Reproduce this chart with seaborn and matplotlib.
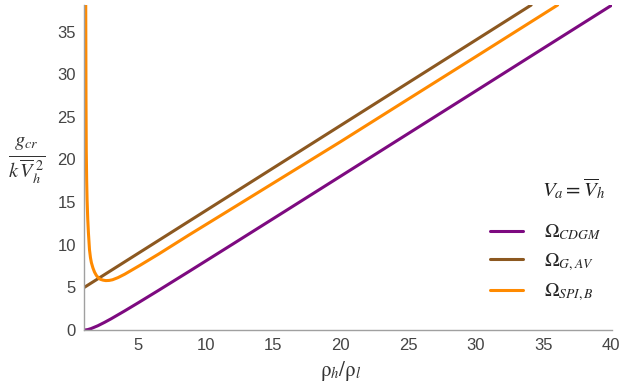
import numpy as np
import matplotlib
matplotlib.use("Agg")
import matplotlib.pyplot as plt
import seaborn as sns
import pandas as pd
from matplotlib.ticker import MultipleLocator

# values
x_cdgm = [1.0, 1.25, 1.5, 2.0, 2.5, 3.0, 4.0, 5.0, 6.5, 8.76, 12.0, 16.0, 20.0, 25.0, 30.0, 35.0, 40.0]
y_cdgm = [0.0, 0.05, 0.17, 0.5, 0.9, 1.33, 2.25, 3.2, 4.65, 6.87, 10.08, 14.06, 18.05, 23.04, 28.03, 33.03, 38.02]

x_gav = [1.0, 10.0, 20.0, 30.0, 34.1]
y_gav = [5.0, 14.0, 24.0, 34.0, 38.1]

x_spi = [1.11, 1.12, 1.13, 1.15, 1.18, 1.21, 1.26, 1.31, 1.39, 1.46, 1.53, 1.64, 1.76,
         1.9, 2.06, 2.2, 2.4, 2.6, 2.85, 3.1, 3.5, 4.0, 5.17, 6.5, 8.76, 12.0, 16.0,
         20.0, 25.0, 30.0, 36.06]
y_spi = [38.1, 33.0, 27.0, 21.0, 17.5, 15.3, 13.0, 11.4, 9.4, 8.5, 7.9, 7.3, 6.8,
         6.4, 6.1, 5.95, 5.85, 5.8, 5.82, 5.9, 6.15, 6.55, 7.63, 8.9, 11.15, 14.3, 18.2,
         22.1, 27.08, 32.05, 38.1]

names = [r"$\Omega_{CDGM}$", r"$\Omega_{G,AV}$", r"$\Omega_{SPI,B}$"]
colors = ["#7d0a80", "#8c5820", "#ff8a00"]

df = pd.concat([
    pd.DataFrame({"x": x_cdgm, "y": y_cdgm, "curve": names[0]}),
    pd.DataFrame({"x": x_gav, "y": y_gav, "curve": names[1]}),
    pd.DataFrame({"x": x_spi, "y": y_spi, "curve": names[2]}),
], ignore_index=True)

sns.set_style("white")
plt.rcParams["font.family"] = ["Liberation Sans", "DejaVu Sans"]
plt.rcParams["mathtext.fontset"] = "stix"

fig = plt.figure(figsize=(6.24, 3.92), dpi=100)
ax = fig.add_axes([0.135, 0.158, 0.846, 0.829])

sns.lineplot(data=df, x="x", y="y", hue="curve", palette=dict(zip(names, colors)),
             sort=False, estimator=None, linewidth=2.2, ax=ax)

ax.set_xlim(1, 40.1)
ax.set_ylim(0, 38.1)
ax.xaxis.set_major_locator(MultipleLocator(5))
ax.xaxis.set_minor_locator(MultipleLocator(1))
ax.yaxis.set_major_locator(MultipleLocator(5))
ax.yaxis.set_minor_locator(MultipleLocator(1))
ax.set_xticks([5, 10, 15, 20, 25, 30, 35, 40])

for s in ["top", "right"]:
    ax.spines[s].set_visible(False)
for s in ["left", "bottom"]:
    ax.spines[s].set_color("#a0a0a0")
    ax.spines[s].set_linewidth(1.0)

ax.tick_params(which="major", direction="in", length=4, width=0.8, color="#a0a0a0",
               labelsize=12, labelcolor="#444444", pad=6)
ax.tick_params(which="minor", direction="in", length=2, width=0.6, color="#a0a0a0")

ax.set_xlabel(r"$\mathrm{\rho}_h/\mathrm{\rho}_l$", fontsize=15, color="#333333")
ax.xaxis.set_label_coords(0.485, -0.09)
ax.set_ylabel(r"$\frac{g_{cr}}{k\,\overline{V}_h^{\;2}}$", fontsize=21,
              rotation=0, color="#333333", va="center", ha="center")
ax.yaxis.set_label_coords(-0.11, 0.52)

# legend title drawn as its own text, entries below it
ax.text(0.868, 0.435, r"$V_a=\overline{V}_h$", transform=ax.transAxes,
        fontsize=15, color="#222222", ha="left", va="center")
leg = ax.legend(loc="upper left", bbox_to_anchor=(0.753, 0.355), frameon=False,
                fontsize=14, handlelength=1.7, labelspacing=0.45, handletextpad=1.1,
                borderaxespad=0)

fig.savefig("out.png", dpi=100)
